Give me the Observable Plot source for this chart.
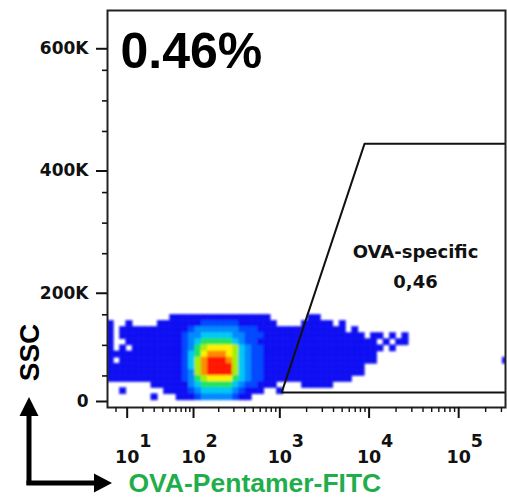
<!DOCTYPE html>
<html><head><meta charset="utf-8">
<script src="https://cdn.jsdelivr.net/npm/d3@7"></script>
<script src="https://cdn.jsdelivr.net/npm/@observablehq/plot@0.6"></script>
<style>
html,body{margin:0;padding:0;background:#fff;}
#chart{position:relative;width:507px;height:497px;overflow:hidden;}
</style></head><body><div id="chart"></div>
<script>
// ---------------- data ----------------
const yMajorTicks = [200000, 400000, 600000];
const yMajorLabels = ["200K", "400K", "600K"];
const yZeroTick = [0];
const yMinorTicks = [50000, 100000, 150000, 250000, 300000, 350000, 450000, 500000, 550000];
const xTickExponents = [1, 2, 3, 4, 5];
const xMinorTicks = [5, 20, 30, 40, 50, 60, 70, 80, 90,
  200, 300, 400, 500, 600, 700, 800, 900,
  2000, 3000, 4000, 5000, 6000, 7000, 8000, 9000,
  20000, 30000, 40000, 50000, 60000, 70000, 80000, 90000,
  200000, 300000];
// gate polygon (FITC, SSC)
const gateX = [333000, 1050, 8900, 333000];
const gateY = [23000, 23000, 430000, 430000];
const gateLabelText = ["OVA-specific", "0,46"];
const gateLabelX = [33000, 33000];
const gateLabelY = [252000, 203700];
const headline = "0.46%";
const xTitle = "OVA-Pentamer-FITC";
const yTitle = "SSC";
// density grid: rows = SSC bins of 10K (top row 140K-150K, last 10K-20K),
// columns = equal steps on the biexponential FITC axis; '.' = no events, 1..9 = density level
const densityRows = [
  ".........." + "1111111111111111" + "......" + "11" + "..............................",
  "1..1...." + "1111111" + "222222" + "111111" + "...." + "11111.1" + "..........................",
  "1.11111111111" + "2" + "3333333" + "222" + "111111111111" + "11" + "." + "1" + "........................",
  "1." + "1111111111" + "2" + "33" + "44444" + "33" + "222" + "1111111111111111" + "." + "11" + "." + "1" + "." + "1" + "................",
  "1.." + "111111111" + "2" + "3" + "4" + "55555" + "4" + "3" + "22" + "1111111111111111111" + "." + "1" + "." + "11" + "................",
  "1.1." + "11111111" + "2" + "3" + "5" + "6" + "7777" + "6" + "4" + "3" + "22" + "1111111111111111111" + "." + "1" + "..................",
  "111111111111" + "2" + "4" + "5" + "7" + "888" + "7" + "6" + "4" + "3" + "22" + "111111111111111111" + ".....................",
  "1." + "1111111111" + "2" + "4" + "6" + "8" + "999" + "8" + "6" + "4" + "3" + "22" + "111111111111111111" + "..................." + "." + "1",
  "111111111111" + "2" + "4" + "6" + "8" + "9999" + "6" + "4" + "3" + "22" + "1111111111111111" + ".......................",
  "111111111111" + "2" + "3" + "6" + "8" + "9999" + "6" + "4" + "3" + "2" + "2" + "1111111111111111" + ".......................",
  "111111111111" + "2" + "3" + "5" + "6" + "7777" + "5" + "4" + "3" + "22" + "11111111111111" + ".........................",
  "......." + "111111" + "3" + "4" + "55555" + "4" + "3" + "22" + "111" + "...." + "11111" + "............................",
  ".." + "1" + "......" + "1111" + "2" + "3" + "44444" + "3" + "2" + "111" + ".." + "1" + "....................................",
  "......." + "1" + "..." + "111" + "2" + "33333" + "2" + "11" + "........................................."
];
const levelColors = ["#0b0bf3", "#0048ff", "#0088ff", "#00c8f4", "#20e45a", "#a8ee00", "#fff000", "#ff8a00", "#ff1800"];

// ---------------- scales / build ----------------
const W = 507, H = 497;
const C = 10;                 // symlog constant (biexponential-like axis)
const xMin = 2.06, xMax = 333000;
const yMin = -1640, yMax = 647900;
const colStep = 0.07;
const gfun = v => Math.log10(1 + v / C);
const ginv = t => C * (Math.pow(10, t) - 1);
const cells = [];
densityRows.forEach((row, r) => {
  const yLo = (densityRows.length - r) * 10000;
  for (let j = 0; j < row.length && j < 64; j++) {
    const ch = row[j];
    if (ch === "." || ch === " ") continue;
    const t0 = gfun(xMin) + j * colStep;
    cells.push({x1: ginv(t0), x2: ginv(t0 + colStep), y1: yLo, y2: yLo + 10000, level: +ch});
  }
});
const gate = gateX.map((x, i) => ({x, y: gateY[i]}));
const gateLabels = gateLabelText.map((t, i) => ({t, x: gateLabelX[i], y: gateLabelY[i]}));

const tickFont = "DejaVu Sans, sans-serif";
const titleFont = "Liberation Sans, Arial, sans-serif";

const plot = Plot.plot({
  width: W, height: H,
  marginLeft: 107, marginRight: 2, marginTop: 10, marginBottom: 90,
  x: {type: "symlog", constant: C, domain: [xMin, xMax]},
  y: {domain: [yMin, yMax]},
  color: {type: "ordinal", domain: [1, 2, 3, 4, 5, 6, 7, 8, 9], range: levelColors},
  style: {background: "white", fontFamily: tickFont, fontSize: "17px", overflow: "visible", color: "#111"},
  marks: [
    Plot.rect(cells, {x1: "x1", x2: "x2", y1: "y1", y2: "y2", fill: "level", stroke: "level", strokeWidth: 0.6, clip: true}),
    Plot.line(gate, {x: "x", y: "y", stroke: "#111", strokeWidth: 2, clip: true}),
    Plot.frame({stroke: "#222", strokeWidth: 2}),
    Plot.axisY(yMajorTicks, {tickSize: 11, tickPadding: 8, dy: 9, label: null, fontWeight: "bold", fontSize: 17,
      tickFormat: d => yMajorLabels[yMajorTicks.indexOf(d)], strokeWidth: 2}),
    Plot.axisY(yZeroTick, {tickSize: 11, tickPadding: 8, dy: -5, label: null, fontWeight: "bold", fontSize: 17,
      tickFormat: d => "0", strokeWidth: 2}),
    Plot.axisY(yMinorTicks, {tickSize: 5, label: null, tickFormat: () => "", strokeWidth: 1.6}),
    Plot.axisX(xTickExponents.map(e => 10 ** e), {tickSize: 11, label: null, tickFormat: () => "", strokeWidth: 2}),
    Plot.axisX(xMinorTicks, {tickSize: 5, label: null, tickFormat: () => "", strokeWidth: 1.4}),
    Plot.text(xTickExponents, {x: e => 10 ** e, text: () => "10", frameAnchor: "bottom", lineAnchor: "bottom",
      dy: 55, fontSize: 17.5, fontWeight: "bold", fill: "#111"}),
    Plot.text(xTickExponents, {x: e => 10 ** e, text: e => String(e), frameAnchor: "bottom", lineAnchor: "bottom",
      textAnchor: "start", dx: 12, dy: 39, fontSize: 17.5, fontWeight: "bold", fill: "#111"}),
    Plot.text(gateLabels, {x: "x", y: "y", text: "t", fontSize: 18, fontWeight: "bold", fill: "#111"}),
    Plot.text([headline], {frameAnchor: "top-left", textAnchor: "start", lineAnchor: "top", dx: 13, dy: 22,
      fontSize: 50, fontWeight: "bold", fontFamily: titleFont, fill: "#000"}),
    Plot.text([yTitle], {frameAnchor: "bottom-left", rotate: -90, textAnchor: "middle", lineAnchor: "bottom",
      dx: -69, dy: -55, fontSize: 28, fontWeight: "bold", fontFamily: titleFont, fill: "#000"}),
    Plot.text([xTitle], {frameAnchor: "bottom-left", textAnchor: "start", lineAnchor: "bottom",
      dx: 21, dy: 84, fontSize: 26.5, fontWeight: "bold", fontFamily: titleFont, fill: "#1fae4b"})
  ]
});

// soften the density blocks slightly, like the reference rendering
const svg = d3.select(plot);
const defs = svg.append("defs");
defs.append("filter").attr("id", "soft").attr("x", "-5%").attr("y", "-20%").attr("width", "110%").attr("height", "140%")
  .append("feGaussianBlur").attr("stdDeviation", 0.9);
svg.select('g[aria-label="rect"]').attr("filter", "url(#soft)");

// L-shaped axis arrows (decoration)
const g = svg.append("g");
g.append("path").attr("d", "M29,485V413").attr("stroke", "#000").attr("stroke-width", 5).attr("fill", "none");
g.append("path").attr("d", "M29,397L38.5,416L19.5,416Z").attr("fill", "#000");
g.append("path").attr("d", "M26.5,483H96").attr("stroke", "#000").attr("stroke-width", 5).attr("fill", "none");
g.append("path").attr("d", "M112,483L94,473.5L94,492.5Z").attr("fill", "#000");

document.getElementById("chart").appendChild(plot);
</script>
</body></html>
